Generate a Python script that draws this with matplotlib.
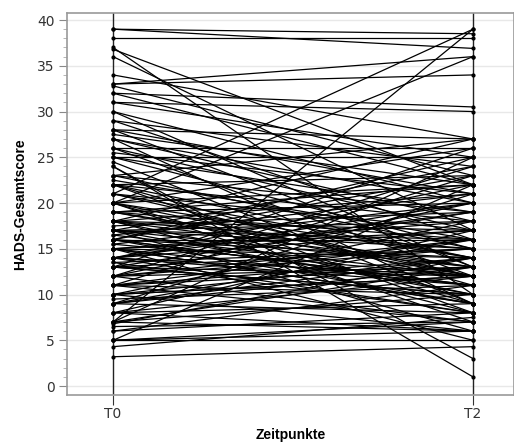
import numpy as np
import matplotlib.pyplot as plt

# HADS-Gesamtscore je Patient: Wert zu T0 und zu T2 (aus der Abbildung geschätzt)
t0 = [39, 39, 38, 37, 36.8, 36, 34, 33, 33, 32.8, 32, 32, 31, 31, 30, 30, 29, 28, 28,
      27.5, 27, 27, 26, 26, 25.5, 25, 25, 24.5, 24, 23, 23, 22.5, 22, 22, 22, 21, 21,
      20, 20, 20, 20, 20, 19, 19, 19, 18, 18, 18, 18, 17.5, 17, 17, 17, 17, 16.5, 16.5,
      16, 16, 16, 16, 15.5, 15.5, 15, 15, 15, 15, 14, 14, 14, 14, 13.5, 13.5, 13, 13,
      13, 13, 12, 12, 12, 12, 11, 11, 11, 11, 10, 10, 10, 10, 9.5, 9, 9, 9, 9, 8, 8,
      8, 8, 7, 7, 7, 7, 7, 6.8, 6.5, 6, 6, 5, 5, 5, 5, 4.3, 3.2,
      19, 17, 16, 15, 14, 12, 11, 22, 21, 18, 25, 27, 29, 20, 13, 10, 9, 24,
      23, 22, 20, 18, 17, 16, 15, 14, 13, 12, 11, 19, 21, 17, 15, 14, 16, 18, 26, 28]
t2 = [38.5, 36.9, 38, 10, 22, 17, 27, 36, 34, 23, 30.5, 22, 25, 30, 20, 13, 24, 27, 13,
      22, 18, 9, 26, 12, 21, 15, 25, 9, 1, 19, 27, 16, 11, 23, 8, 39, 17,
      36, 14, 22, 7, 26, 20, 12, 16, 27, 15, 10, 21, 19, 24, 13, 6, 18, 21, 12,
      16, 9, 25, 14, 12, 20, 18, 14, 5, 11, 22, 11, 17, 8, 8, 15, 15, 26,
      12, 19, 20, 7, 13, 24, 16, 10, 23, 14, 14, 6, 18, 12, 11, 21, 8, 13, 16, 12,
      17, 9, 6, 39, 25, 10, 6, 13, 14, 7, 8, 11, 22, 6, 5, 7, 7.5, 4.3,
      13, 15, 11, 9, 12, 16, 7, 14, 12, 17, 19, 20, 16, 9, 10, 12, 14, 3,
      15, 18, 12, 13, 16, 11, 17, 19, 10, 15, 13, 22, 14, 10, 9, 20, 23, 8, 17, 21]

fig = plt.figure(figsize=(5.14, 4.45), dpi=100)
ax = fig.add_axes([0.1304, 0.1124, 0.8696, 0.8584])

for a, b in zip(t0, t2):
    ax.plot([0, 1], [a, b], color='black', lw=0.9, marker='o', ms=2.0,
            solid_capstyle='butt', zorder=3)

ax.axvline(0, color='#222222', lw=1.0, zorder=2)
ax.axvline(1, color='#222222', lw=1.0, zorder=2)

ax.set_xlim(-0.128, 1.114)
ax.set_ylim(-0.98, 40.77)
ax.set_xticks([0, 1])
ax.set_xticklabels(['T0', 'T2'])
ax.set_yticks(np.arange(0, 41, 5))
ax.set_yticks(np.arange(0, 41, 1), minor=True)
ax.yaxis.grid(True, color='#e8e8e8', lw=1.0, zorder=0)
ax.set_axisbelow(True)

for s in ax.spines.values():
    s.set_color('#999999')
    s.set_linewidth(1.2)

ax.tick_params(axis='y', which='major', length=6, color='#888888', labelsize=10,
               labelcolor='#333333', pad=3)
ax.tick_params(axis='y', which='minor', length=3, color='#aaaaaa')
ax.tick_params(axis='x', length=7, color='#333333', labelsize=10,
               labelcolor='#333333', pad=2)

ax.set_ylabel('HADS-Gesamtscore', fontsize=10, fontweight='bold',
              family='Liberation Sans', labelpad=7)
fig.text(0.565, 0.006, 'Zeitpunkte', fontsize=10, fontweight='bold',
         family='Liberation Sans', ha='center', va='bottom')

fig.savefig('out.png', dpi=100)
